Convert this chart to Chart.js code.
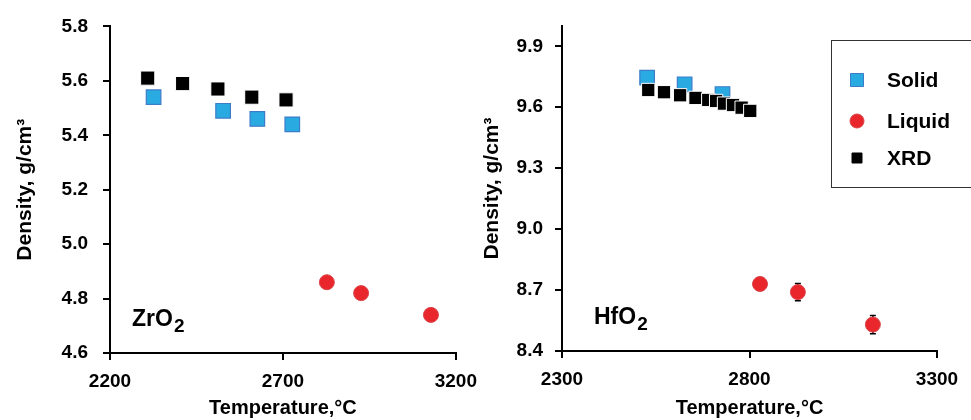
<!DOCTYPE html>
<html>
<head>
<meta charset="utf-8">
<script src="https://cdn.jsdelivr.net/npm/chart.js@4.4.1/dist/chart.umd.min.js"></script>
<style>
  html, body { margin: 0; padding: 0; background: #fff; }
  #wrap { position: relative; width: 971px; height: 420px; overflow: hidden; }
  canvas { position: absolute; top: 0; }
  #zr-chart { left: 0; }
  #hf-chart { left: 480px; }
</style>
</head>
<body>
<div id="wrap">
  <canvas id="zr-chart" width="487" height="420"></canvas>
  <canvas id="hf-chart" width="491" height="420"></canvas>
</div>
<script>
'use strict';

// ********** DATA **********

// ZrO2 panel
let zrSolidT = [2326, 2527, 2626, 2727];
let zrSolidD = [5.54, 5.49, 5.46, 5.44];
let zrLiquidT = [2827, 2926, 3128];
let zrLiquidD = [4.86, 4.82, 4.74];
let zrXrdT = [2309, 2410, 2512, 2610, 2709];
let zrXrdD = [5.61, 5.59, 5.57, 5.54, 5.53];
let zrTempTicks = [2200, 2700, 3200];
let zrDensTicks = [4.6, 4.8, 5.0, 5.2, 5.4, 5.6, 5.8];

// HfO2 panel
let hfSolidT = [2527, 2627, 2728];
let hfSolidD = [9.746, 9.713, 9.665];
let hfLiquidT = [2828, 2929, 3129];
let hfLiquidD = [8.73, 8.69, 8.53];
let hfLiquidErr = [0.03, 0.042, 0.045];
let hfXrdT = [2530, 2572, 2615, 2656, 2690, 2711, 2732, 2756, 2779, 2802];
let hfXrdD = [9.685, 9.674, 9.659, 9.646, 9.636, 9.631, 9.618, 9.611, 9.598, 9.582];
let hfTempTicks = [2300, 2800, 3300];
let hfDensTicks = [8.4, 8.7, 9.0, 9.3, 9.6, 9.9];

let seriesNames = ['Solid', 'Liquid', 'XRD'];

// ********** STYLE **********

Chart.defaults.font.family = '"Liberation Sans", Arial, sans-serif';
Chart.defaults.font.weight = 'bold';
Chart.defaults.color = '#000';

const SOLID_FILL = '#29abe2';
const SOLID_EDGE = '#3d7cc9';
const LIQUID_FILL = '#e8262b';
const LIQUID_EDGE = '#d9464a';

// ********** HELPERS **********

function toPoints(xs, ys) {
  let pts = [];
  for (let i = 0; i < xs.length; i++) {
    pts.push({ x: xs[i], y: ys[i] });
  }
  return pts;
}

function buildDatasets(solidT, solidD, liquidT, liquidD, xrdT, xrdD, xrdRadius) {
  return [{
    label: seriesNames[0],
    data: toPoints(solidT, solidD),
    pointStyle: 'rect',
    pointRadius: 10.3,
    backgroundColor: SOLID_FILL,
    borderColor: SOLID_EDGE,
    borderWidth: 1.2,
    order: 2
  },
  {
    label: seriesNames[1],
    data: toPoints(liquidT, liquidD),
    pointStyle: 'circle',
    pointRadius: 7.5,
    backgroundColor: LIQUID_FILL,
    borderColor: LIQUID_EDGE,
    borderWidth: 1,
    order: 1
  },
  {
    label: seriesNames[2],
    data: toPoints(xrdT, xrdD),
    pointStyle: 'rect',
    pointRadius: xrdRadius,
    backgroundColor: '#000',
    borderColor: '#fff',
    borderWidth: 1,
    order: 0
  }];
}

function axisOptions(min, max, tickList, isY, fitSize, tickPad, titleText, titleSize, titlePad) {
  return {
    type: 'linear',
    min: min,
    max: max,
    afterBuildTicks: (scale) => {
      scale.ticks = tickList.map(v => ({ value: v }));
    },
    afterFit: (scale) => {
      if (isY) {
        scale.width = fitSize;
      } else {
        scale.height = fitSize;
      }
    },
    ticks: {
      font: { size: 19, weight: 'bold' },
      color: '#000',
      padding: tickPad,
      maxRotation: 0,
      autoSkip: false,
      callback: (v) => isY ? Number(v).toFixed(1) : String(v)
    },
    grid: {
      drawOnChartArea: false,
      drawTicks: true,
      tickLength: 7,
      color: '#000',
      lineWidth: 2
    },
    border: { display: true, color: '#000', width: 2 },
    title: {
      display: true,
      text: titleText,
      font: { size: titleSize, weight: 'bold' },
      color: '#000',
      padding: titlePad
    }
  };
}

// draws a formula label like ZrO2 with a subscript digit
function formulaPlugin(base, sub, x, y) {
  return {
    id: 'formula',
    afterDraw: (chart) => {
      let c = chart.ctx;
      c.save();
      c.fillStyle = '#000';
      c.textBaseline = 'alphabetic';
      c.font = 'bold 23px "Liberation Sans", Arial, sans-serif';
      c.fillText(base, x, y);
      let w = c.measureText(base).width;
      c.font = 'bold 19px "Liberation Sans", Arial, sans-serif';
      c.fillText(sub, x + w + 1, y + 6);
      c.restore();
    }
  };
}

// little error bars behind the liquid points
let errorBarPlugin = {
  id: 'errorBars',
  beforeDatasetsDraw: (chart) => {
    let c = chart.ctx;
    let xs = chart.scales.x;
    let ys = chart.scales.y;
    c.save();
    c.strokeStyle = '#000';
    c.lineWidth = 1.5;
    for (let i = 0; i < hfLiquidT.length; i++) {
      let px = xs.getPixelForValue(hfLiquidT[i]);
      let top = ys.getPixelForValue(hfLiquidD[i] + hfLiquidErr[i]);
      let bot = ys.getPixelForValue(hfLiquidD[i] - hfLiquidErr[i]);
      c.beginPath();
      c.moveTo(px, top);
      c.lineTo(px, bot);
      c.moveTo(px - 3, top);
      c.lineTo(px + 3, top);
      c.moveTo(px - 3, bot);
      c.lineTo(px + 3, bot);
      c.stroke();
    }
    c.restore();
  }
};

// boxed legend in the top right corner
let boxLegendPlugin = {
  id: 'boxLegend',
  afterDraw: (chart) => {
    let c = chart.ctx;
    let ds = chart.data.datasets;
    let rowY = [80, 121, 158];
    let sizes = [13, 14, 10];
    c.save();
    c.strokeStyle = '#333';
    c.lineWidth = 1;
    c.strokeRect(351.5, 40.5, 160, 147);
    for (let i = 0; i < ds.length; i++) {
      let mx = 377;
      let my = rowY[i];
      let s = sizes[i];
      c.fillStyle = ds[i].backgroundColor;
      c.strokeStyle = i === 2 ? '#000' : ds[i].borderColor;
      c.beginPath();
      if (ds[i].pointStyle === 'circle') {
        c.arc(mx, my, s / 2, 0, Math.PI * 2);
      } else {
        c.rect(mx - s / 2, my - s / 2, s, s);
      }
      c.fill();
      c.stroke();
      c.fillStyle = '#000';
      c.font = 'bold 21px "Liberation Sans", Arial, sans-serif';
      c.textBaseline = 'middle';
      c.fillText(ds[i].label, 407, my + 1);
    }
    c.restore();
  }
};

// ********** CHARTS **********

new Chart(document.getElementById('zr-chart'), { //eslint-disable-line
  type: 'scatter',
  data: {
    datasets: buildDatasets(zrSolidT, zrSolidD, zrLiquidT, zrLiquidD, zrXrdT, zrXrdD, 10)
  },
  options: {
    responsive: false,
    animation: false,
    layout: { padding: { top: 24, right: 24, left: 0, bottom: 0 } },
    plugins: { legend: { display: false }, tooltip: { enabled: false } },
    scales: {
      x: axisOptions(2200, 3200, zrTempTicks, false, 67, 10, 'Temperature,°C', 20, { top: 0, bottom: 0 }),
      y: axisOptions(4.6, 5.8, zrDensTicks, true, 110, 15, 'Density, g/cm³', 21, { top: 13, bottom: 0 })
    }
  },
  plugins: [formulaPlugin('ZrO', '2', 132, 326)]
});

new Chart(document.getElementById('hf-chart'), { //eslint-disable-line
  type: 'scatter',
  data: {
    datasets: buildDatasets(hfSolidT, hfSolidD, hfLiquidT, hfLiquidD, hfXrdT, hfXrdD, 9.4)
  },
  options: {
    responsive: false,
    animation: false,
    layout: { padding: { top: 26, right: 34, left: 0, bottom: 0 } },
    plugins: { legend: { display: false }, tooltip: { enabled: false } },
    scales: {
      x: axisOptions(2300, 3300, hfTempTicks, false, 69, 10, 'Temperature,°C', 20, { top: 0, bottom: 0 }),
      y: axisOptions(8.4, 10.0, hfDensTicks, true, 82, 12, 'Density, g/cm³', 21, { top: 0, bottom: 0 })
    }
  },
  plugins: [errorBarPlugin, boxLegendPlugin, formulaPlugin('HfO', '2', 114, 324)]
});
</script>
</body>
</html>
